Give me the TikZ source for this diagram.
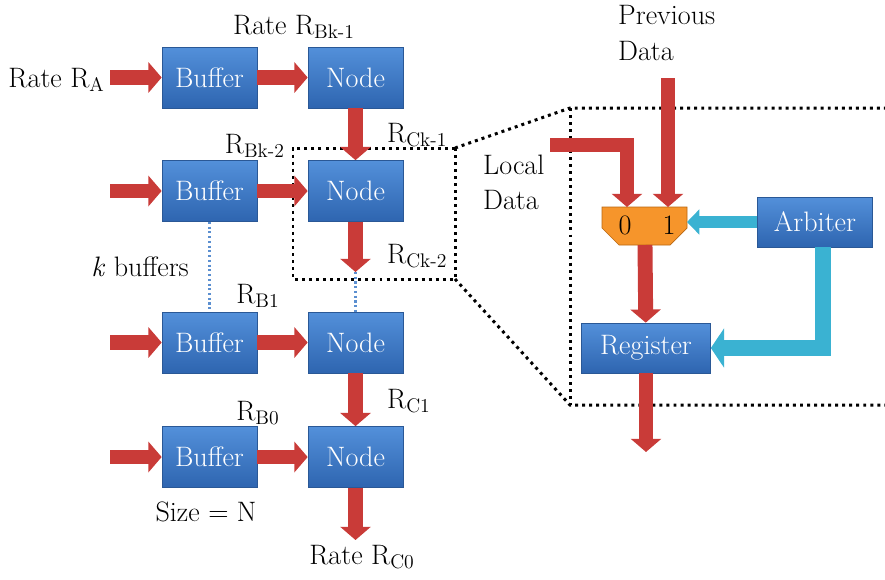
\documentclass[tikz,border=0pt]{standalone}
\usetikzlibrary{arrows.meta}

\definecolor{boxtop}{HTML}{5390DA}
\definecolor{boxbot}{HTML}{2E65B0}
\definecolor{boxedge}{HTML}{2A5896}
\definecolor{arrred}{HTML}{C93B38}
\definecolor{arrcyan}{HTML}{3AB2D2}
\definecolor{muxorange}{HTML}{F6952B}
\definecolor{muxedge}{HTML}{B8650F}
\definecolor{dotblue}{HTML}{5B8FD0}

\tikzset{
  blk/.style={draw=boxedge, top color=boxtop, bottom color=boxbot,
    text=white, minimum width=1.9cm, minimum height=1.22cm, inner sep=0pt},
  redarr/.style={draw=arrred, line width=8.5pt, line join=miter,
    -{Triangle[width=17pt,length=7.5pt]}},
  cyanarr/.style={draw=arrcyan, line width=6.8pt, line join=miter,
    -{Triangle[width=14pt,length=7pt]}},
  zoomdot/.style={line width=1.7pt, dash pattern=on 1.7pt off 2.3pt},
  linkdot/.style={draw=dotblue, line width=1.2pt, dash pattern=on 1.2pt off 1.5pt},
}

\begin{document}
\begin{tikzpicture}[x=0.02cm, y=-0.02cm,
    every node/.style={font=\fontsize{16}{20}\selectfont}]
  \useasboundingbox (0,0) rectangle (885,579);

  % zoom frame
  \draw[zoomdot] (455,148) -- (293,148) -- (293,279) -- (455,279) -- cycle;
  \draw[zoomdot] (455,148) -- (570,108) -- (885,108);
  \draw[zoomdot] (455,279) -- (570,405) -- (885,405);
  \draw[zoomdot] (570,108) -- (570,405);

  % chain of buffers and nodes
  \node[blk] (buf3) at (209.5,77.5) {Buffer};
  \node[blk] (nod3) at (355.5,77.5) {Node};
  \node[blk] (buf2) at (209.5,191) {Buffer};
  \node[blk] (nod2) at (355.5,191) {Node};
  \node[blk] (buf1) at (209.5,342.5) {Buffer};
  \node[blk] (nod1) at (355.5,342.5) {Node};
  \node[blk] (buf0) at (209.5,457) {Buffer};
  \node[blk] (nod0) at (355.5,457) {Node};

  \coordinate (in3) at (110,77.5);
  \coordinate (in2) at (110,191);
  \coordinate (in1) at (110,342.5);
  \coordinate (in0) at (110,457);
  \coordinate (c2) at (355.5,272);
  \coordinate (out0) at (355.5,540);

  \draw[redarr] (in3) -- (buf3);
  \draw[redarr] (in2) -- (buf2);
  \draw[redarr] (in1) -- (buf1);
  \draw[redarr] (in0) -- (buf0);
  \draw[redarr] (buf3) -- (nod3);
  \draw[redarr] (buf2) -- (nod2);
  \draw[redarr] (buf1) -- (nod1);
  \draw[redarr] (buf0) -- (nod0);
  \draw[redarr] (nod3) -- (nod2);
  \draw[redarr] (nod2) -- (c2);
  \draw[redarr] (nod1) -- (nod0);
  \draw[redarr] (nod0) -- (out0);

  \draw[linkdot] (buf2) -- (buf1);
  \draw[linkdot] (c2) -- (nod1);

  % labels
  \node[anchor=east] (ra) at (111,80) {Rate R\textsubscript{A}};
  \node (rb3) at (294,27) {Rate R\textsubscript{Bk-1}};
  \node[anchor=west] (rc3) at (381,135) {R\textsubscript{Ck-1}};
  \node[anchor=east] (rb2) at (291,146) {R\textsubscript{Bk-2}};
  \node[anchor=west] (rc2) at (381,256) {R\textsubscript{Ck-2}};
  \node[anchor=east] (kb) at (195,267) {\textit{k} buffers};
  \node (rb1) at (258,296) {R\textsubscript{B1}};
  \node[anchor=west] (rc1) at (381,401) {R\textsubscript{C1}};
  \node (rb0) at (258,413) {R\textsubscript{B0}};
  \node (size) at (206,512) {Size = N};
  \node (rc0) at (362,557) {Rate R\textsubscript{C0}};

  % zoomed node
  \node[blk, minimum width=2.3cm, minimum height=1cm] (arb) at (815,222) {Arbiter};
  \node[blk, minimum width=2.58cm, minimum height=1cm] (reg) at (646,348) {Register};

  \filldraw[fill=muxorange, draw=muxedge]
    (602,207) -- (687,207) -- (687,228) -- (670,245) -- (619,245) -- (602,228) -- cycle;
  \node (m0) at (625,225) {0};
  \node (m1) at (669,225) {1};

  \coordinate (prev) at (668,78);
  \coordinate (mux1) at (668,207);
  \coordinate (loc) at (550,145);
  \coordinate (locbend) at (627,145);
  \coordinate (mux0) at (627,207);
  \coordinate (muxin) at (687,222);
  \coordinate (muxout) at (645,245);
  \coordinate (arbout) at (823,247);
  \coordinate (arbbend) at (823,348);
  \coordinate (regout) at (646,452);

  \draw[redarr] (prev) -- (mux1);
  \draw[redarr] (loc) -- (locbend) -- (mux0);
  \draw[redarr] (muxout) -- (reg);
  \draw[redarr] (reg) -- (regout);
  \draw[cyanarr] (arb) -- (muxin);
  \draw[cyanarr, line width=9.5pt, -{Triangle[width=22pt,length=7.5pt]}]
    (arbout) -- (arbbend) -- (reg);

  \node[align=left, anchor=west] (prevtxt) at (612,33) {Previous\\Data};
  \node[align=left, anchor=west] (loctxt) at (477,182) {Local\\Data};
\end{tikzpicture}
\end{document}
